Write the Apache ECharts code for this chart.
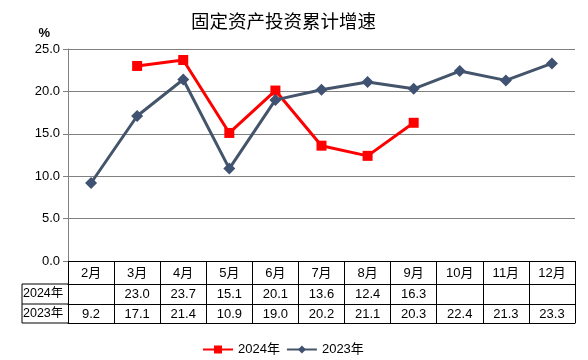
<!DOCTYPE html>
<html><head><meta charset="utf-8">
<script src="https://cdn.jsdelivr.net/npm/echarts@6/dist/echarts.min.js"></script>
<style>html,body{margin:0;padding:0;background:#fff}#c{width:588px;height:360px}</style>
</head><body><div id="c"></div>
<script>
var months = ['2月','3月','4月','5月','6月','7月','8月','9月','10月','11月','12月'];
var s2024 = [null, 23.0, 23.7, 15.1, 20.1, 13.6, 12.4, 16.3, null, null, null];
var s2023 = [9.2, 17.1, 21.4, 10.9, 19.0, 20.2, 21.1, 20.3, 22.4, 21.3, 23.3];
var yTicks = [0, 5, 10, 15, 20, 25];
var names = ['2024年', '2023年'];

var FONT = '"Liberation Sans", Arial, "Noto Sans CJK SC", sans-serif';
var fmt = function (v) { return v == null ? '' : v.toFixed(1); };
var chart = echarts.init(document.getElementById('c'));
var gL = 68, gR = 575, gT = 49, gB = 261;
var line = function (x1, y1, x2, y2) {
  return { type: 'line', silent: true, shape: { x1: x1, y1: y1, x2: x2, y2: y2 }, style: { stroke: '#000', lineWidth: 1 } };
};
chart.setOption({
  animation: false,
  textStyle: { fontFamily: FONT },
  title: { text: '固定资产投资累计增速', left: 186, top: 7,
    textStyle: { fontFamily: '"Noto Sans CJK SC", sans-serif', fontSize: 18.5, fontWeight: 'normal', color: '#000' } },
  grid: { left: gL, right: 588 - gR, top: gT, bottom: 360 - gB },
  legend: { bottom: -1, left: 197, itemWidth: 30, itemHeight: 10, itemGap: 6,
    textStyle: { fontSize: 13, color: '#000', fontFamily: FONT }, data: names },
  xAxis: [
    { type: 'category', data: months, position: 'bottom',
      axisLine: { lineStyle: { color: '#000', width: 1 } },
      axisTick: { show: true, length: 62, interval: 0, lineStyle: { color: '#000' } },
      axisLabel: { interval: 0, margin: 6, fontSize: 13, color: '#000', fontFamily: FONT } },
    { type: 'category', data: months, position: 'bottom', offset: 23,
      axisLine: { lineStyle: { color: '#000', width: 1 } }, axisTick: { show: false },
      axisLabel: { interval: 0, margin: 4, fontSize: 13, color: '#000', fontFamily: FONT,
        formatter: function (v, i) { return fmt(s2024[i]); } } },
    { type: 'category', data: months, position: 'bottom', offset: 43,
      axisLine: { lineStyle: { color: '#000', width: 1 } }, axisTick: { show: false },
      axisLabel: { interval: 0, margin: 4, fontSize: 13, color: '#000', fontFamily: FONT,
        formatter: function (v, i) { return fmt(s2023[i]); } } },
    { type: 'category', data: months, position: 'bottom', offset: 62,
      axisLine: { lineStyle: { color: '#000', width: 1 } }, axisTick: { show: false },
      axisLabel: { show: false } }
  ],
  yAxis: { type: 'value', min: yTicks[0], max: yTicks[yTicks.length - 1], interval: 5,
    name: '%', nameLocation: 'end', nameGap: 9,
    nameTextStyle: { align: 'right', padding: [0, 18, 0, 0], fontSize: 13, fontWeight: 'bold', color: '#000', fontFamily: FONT },
    axisLine: { show: true, lineStyle: { color: '#808080' } },
    axisTick: { show: true, length: 5, lineStyle: { color: '#808080' } },
    axisLabel: { fontSize: 13, color: '#000', margin: 8, formatter: function (v) { return v.toFixed(1); } },
    splitLine: { lineStyle: { color: '#808080', width: 1 } } },
  series: [
    { name: names[0], type: 'line', data: s2024, symbol: 'rect', symbolSize: 10,
      itemStyle: { color: '#FF0000' }, lineStyle: { color: '#FF0000', width: 3 } },
    { name: names[1], type: 'line', data: s2023, symbol: 'diamond', symbolSize: 12,
      itemStyle: { color: '#3F5272' }, lineStyle: { color: '#44546A', width: 3 } }
  ],
  graphic: [
    line(22, 284, gL, 284), line(22, 304, gL, 304), line(22, 323, gL, 323), line(22, 284, 22, 323),
    { type: 'text', left: 23, top: 287, silent: true, style: { text: names[0], font: '12.5px ' + FONT, fill: '#000' } },
    { type: 'text', left: 23, top: 307, silent: true, style: { text: names[1], font: '12.5px ' + FONT, fill: '#000' } }
  ]
});
</script></body></html>
